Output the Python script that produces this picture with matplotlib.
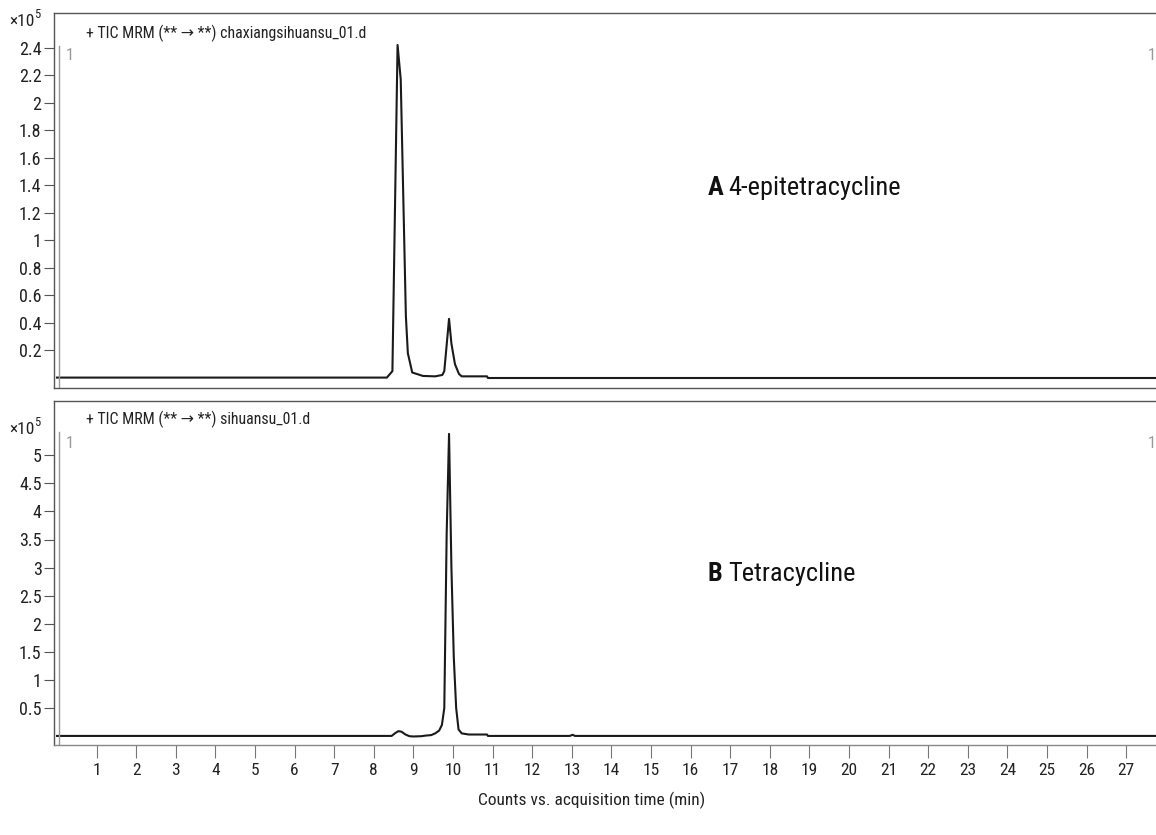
import matplotlib
matplotlib.use("Agg")
import matplotlib.pyplot as plt
from matplotlib import font_manager

# chromatogram traces, values in x10^5 counts
time_a = [0, 8.33, 8.47, 8.60, 8.68, 8.81, 8.86, 8.97, 9.24, 9.55, 9.73, 9.78,
          9.90, 9.96, 10.05, 10.15, 10.22, 10.86, 10.88, 28.2]
counts_a = [0.003, 0.003, 0.05, 2.42, 2.17, 0.45, 0.18, 0.04, 0.015, 0.012, 0.022, 0.05,
            0.43, 0.25, 0.10, 0.03, 0.012, 0.012, 0.0, 0.0]

time_b = [0, 8.45, 8.55, 8.62, 8.70, 8.80, 8.90, 9.00, 9.20, 9.30, 9.45, 9.55, 9.65,
          9.72, 9.78, 9.84, 9.90, 9.96, 10.02, 10.08, 10.14, 10.22, 10.40, 10.86, 10.88,
          12.95, 13.02, 13.08, 28.2]
counts_b = [0.005, 0.005, 0.06, 0.09, 0.08, 0.03, 0.0, -0.005, 0.0, 0.01, 0.02, 0.05, 0.10,
            0.20, 0.50, 3.6, 5.38, 3.0, 1.4, 0.5, 0.12, 0.05, 0.03, 0.03, 0.005,
            0.005, 0.025, 0.005, 0.005]

yticks_a = [0.2, 0.4, 0.6, 0.8, 1, 1.2, 1.4, 1.6, 1.8, 2, 2.2, 2.4]
yticks_b = [0.5, 1, 1.5, 2, 2.5, 3, 3.5, 4, 4.5, 5]
xticks = list(range(1, 28))

title_a = "+ TIC MRM (** \u2192 **) chaxiangsihuansu_01.d"
title_b = "+ TIC MRM (** \u2192 **) sihuansu_01.d"
label_a = ("A", "4-epitetracycline")
label_b = ("B", "Tetracycline")

avail = {f.name for f in font_manager.fontManager.ttflist}
base = "DejaVu Sans"
for cand in ["Roboto Condensed", "Liberation Sans Narrow", "DejaVu Sans Condensed", "Liberation Sans"]:
    if cand in avail:
        base = cand
        break
plt.rcParams["font.family"] = [base, "DejaVu Sans"]

W, H = 1156, 835
fig = plt.figure(figsize=(W / 100, H / 100), dpi=100)


def px_box(left, top, right, bottom):
    return [left / W, (H - bottom) / H, (right - left) / W, (bottom - top) / H]


# pixel mapping: t -> 57 + 39.6 t
x_left = (54 - 57) / 39.6
x_right = (1170 - 57) / 39.6

ax1 = fig.add_axes(px_box(54, 12.7, 1170, 388))
ax2 = fig.add_axes(px_box(54, 400.7, 1170, 745))

ax1.plot(time_a, counts_a, color="#1a1a1a", lw=1.5)
ax2.plot(time_b, counts_b, color="#1a1a1a", lw=1.5)

ax1.set_ylim((378 - 388) / 137.6, (378 - 12.7) / 137.6)
ax2.set_ylim((736.2 - 745) / 56.2, (736.2 - 400.7) / 56.2)

for ax, yt in [(ax1, yticks_a), (ax2, yticks_b)]:
    ax.set_xlim(x_left, x_right)
    ax.set_yticks(yt)
    ax.set_yticklabels([f"{v:g}" for v in yt])
    ax.tick_params(axis="y", direction="out", length=7, width=0.8, color="#555",
                   labelsize=13, pad=2, labelcolor="#222")
    for s in ax.spines.values():
        s.set_color("#555")
        s.set_linewidth(1.0)
    ax.spines["right"].set_visible(False)
    # marker line at the start of the trace
    ax.axvline(x_left + 5 / 39.6, ymin=0, ymax=0.91, color="#999", lw=1.0)

ax1.set_xticks([])
ax2.set_xticks(xticks)
ax2.set_xticklabels([str(v) for v in xticks])
ax2.tick_params(axis="x", direction="out", length=9, width=0.8, color="#777",
                labelsize=12.5, pad=4, labelcolor="#222")
ax2.spines["bottom"].set_color("#888")

for ypix in (55, 443):
    fig.text(66 / W, 1 - ypix / H, "1", color="#999", fontsize=12, va="center", ha="left")
    fig.text(1148 / W, 1 - ypix / H, "1", color="#999", fontsize=12, va="center", ha="left")

fig.text(86 / W, 1 - 33 / H, title_a, fontsize=11.4, color="#222", va="center")
fig.text(86 / W, 1 - 419 / H, title_b, fontsize=11.4, color="#222", va="center")

for ypix in (21, 429):
    fig.text(35 / W, 1 - ypix / H, "\u00d710", fontsize=12.5, color="#222",
             ha="right", va="center")
    fig.text(34 / W, 1 - (ypix - 6) / H, "5", fontsize=9, color="#222",
             ha="left", va="center")

fig.text(592 / W, 1 - 800 / H, "Counts vs. acquisition time (min)", fontsize=12.5,
         color="#222", ha="center", va="center")

fig.canvas.draw()
renderer = fig.canvas.get_renderer()
for (bold, rest), ypix in [(label_a, 188), (label_b, 574)]:
    tb = fig.text(708 / W, 1 - ypix / H, bold, fontsize=19, fontweight="bold",
                  color="#111", va="center", ha="left")
    ext = tb.get_window_extent(renderer)
    fig.text((ext.x1 + 5) / W, 1 - ypix / H, rest, fontsize=19, color="#111",
             va="center", ha="left")

fig.savefig("out.png", dpi=100)
